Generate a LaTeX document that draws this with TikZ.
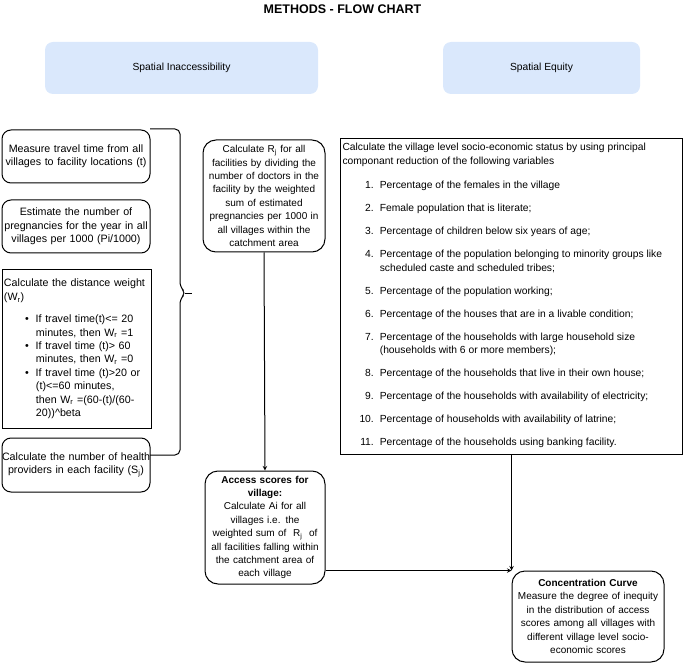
\documentclass[tikz,border=0pt]{standalone}
\usepackage{fontspec}
\setmainfont{Liberation Sans}
\usetikzlibrary{arrows}
\definecolor{hdrblue}{HTML}{DAE8FC}

\tikzset{
  header/.style={fill=hdrblue, rounded corners=8pt, minimum height=52pt,
    font=\fontsize{10.3}{12}\selectfont},
  leftbox/.style={draw, line width=1pt, rounded corners=9pt, align=center,
    inner xsep=0pt, inner ysep=2pt, minimum width=148pt, text width=148pt,
    font=\fontsize{10.7}{13.4}\selectfont},
  midbox/.style={draw, line width=1pt, rounded corners=13pt, align=center,
    inner sep=2pt, font=\fontsize{10}{13.4}\selectfont},
  link/.style={->, line width=1pt}
}

\begin{document}
\begin{tikzpicture}[x=1pt, y=-1pt, >=stealth]
    \useasboundingbox (0,0) rectangle (685,668);

    % Title and the two headings
    \node[font=\bfseries\fontsize{12.5}{14}\selectfont] (title) at (342.5,9) {METHODS - FLOW CHART};
    \node[header, minimum width=273pt] (inacc) at (181.5,68) {Spatial Inaccessibility};
    \node[header, minimum width=197pt] (equity) at (541.5,68) {Spatial Equity};

    % Left column
    \node[leftbox, minimum height=53pt] (travel) at (76,156.5)
      {Measure travel time from all\\villages to facility locations (t)};
    \node[leftbox, minimum height=53pt] (pregn) at (76,226.5)
      {Estimate the number of\\pregnancies for the year in all\\villages per 1000 (Pi/1000)};
    \node[leftbox, rounded corners=0pt, align=left, inner xsep=2pt, minimum width=149pt,
      text width=145pt, minimum height=158pt] (weight) at (76.5,349)
      {Calculate the distance weight\\
       (W\textsubscript{r})\\[9pt]
       \hspace*{21pt}\textbullet\hspace{7pt}If travel time(t)<= 20\\
       \hspace*{32pt}minutes, then W\textsubscript{r} =1\\
       \hspace*{21pt}\textbullet\hspace{7pt}If travel time (t)> 60\\
       \hspace*{32pt}minutes, then W\textsubscript{r} =0\\
       \hspace*{21pt}\textbullet\hspace{7pt}If travel time (t)>20 or\\
       \hspace*{32pt}(t)<=60 minutes,\\
       \hspace*{32pt}then W\textsubscript{r} =(60-(t)/(60-\\
       \hspace*{32pt}20))\textasciicircum beta};
    \node[leftbox, minimum height=54pt] (providers) at (76,465)
      {\mbox{Calculate the number of health}\\providers in each facility (S\textsubscript{j})};

    % Brace over the left column
    \draw[line width=1pt, rounded corners=5pt] (150,129) -- (180,129) -- (180,287)
      -- (186,293) -- (180,299) -- (180,455) -- (150,455);
    \draw[line width=1pt] (185,293) -- (192,293);

    % Middle column
    \node[midbox, minimum width=122pt, minimum height=112pt, text width=118pt] (ratio) at (264,196)
      {Calculate R\textsubscript{j} for all\\facilities by dividing the\\number of doctors in the\\
       facility by the weighted\\sum of estimated\\pregnancies per 1000 in\\
       all villages within the\\catchment area};
    \node[midbox, minimum width=118pt, minimum height=113pt, text width=116pt] (access) at (265,527.5)
      {\textbf{Access scores for}\\\textbf{village:}\\Calculate Ai for all\\villages i.e. the\\
       weighted sum of~ R\textsubscript{j}~ of\\all facilities falling within\\
       the catchment area of\\each village};

    % Right column
    \node[draw, line width=1pt, anchor=north west, inner sep=0pt, font=\fontsize{10.3}{13.2}\selectfont] (ses) at (340,138)
      {\parbox[t][316pt][t]{342pt}{\raggedright
       \vspace{5pt}\hspace*{2pt}Calculate the village level socio-economic status by using principal\\
       \hspace*{2pt}componant reduction of the following variables\par\vspace{12pt}
       \begin{tabular}{@{\hspace{19pt}}r@{\hspace{6pt}}l}
       1. & Percentage of the females in the village\\[9.9pt]
       2. & Female population that is literate;\\[9.9pt]
       3. & Percentage of children below six years of age;\\[9.9pt]
       4. & Percentage of the population belonging to minority groups like\\
          & scheduled caste and scheduled tribes;\\[9.9pt]
       5. & Percentage of the population working;\\[9.9pt]
       6. & Percentage of the houses that are in a livable condition;\\[9.9pt]
       7. & Percentage of the households with large household size\\
          & (households with 6 or more members);\\[9.9pt]
       8. & Percentage of the households that live in their own house;\\[9.9pt]
       9. & Percentage of the households with availability of electricity;\\[9.9pt]
       10. & Percentage of households with availability of latrine;\\[9.9pt]
       11. & Percentage of the households using banking facility.
       \end{tabular}}};
    \node[midbox, minimum width=150pt, minimum height=91pt, text width=148pt] (conc) at (588,616.5)
      {\textbf{Concentration Curve}\\Measure the degree of inequity\\in the distribution of access\\
       scores among all villages with\\different village level socio-\\economic scores};

    % Connectors
    \draw[link] (ratio.south) -- (access.north);
    \draw[link] (access.east |- conc.north west) -- (conc.north west);
    \draw[link] (ses.south -| conc.north west) -- (conc.north west);
\end{tikzpicture}
\end{document}
